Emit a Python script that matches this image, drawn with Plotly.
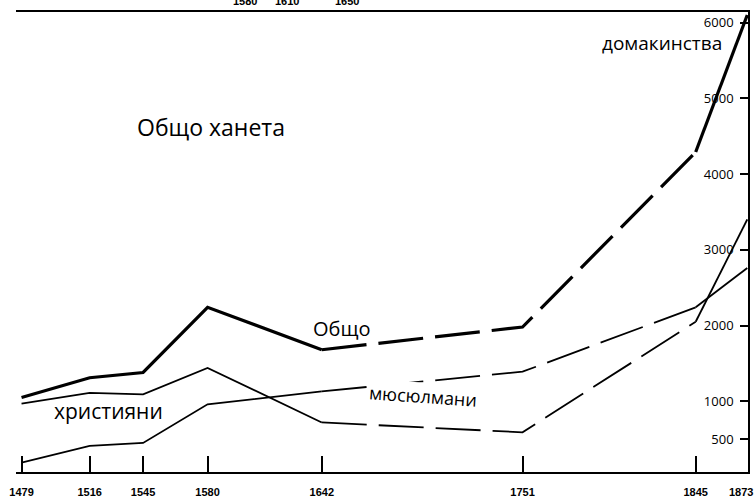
import plotly.graph_objects as go

# ---- data (households) ----
years = [1479, 1516, 1545, 1580, 1642, 1751, 1845, 1873]
total = [1050, 1310, 1380, 2240, 1680, 1980, 4290, 6100]
christians = [970, 1110, 1090, 1440, 720, 590, 2050, 3400]
muslims = [190, 410, 450, 960, 1130, 1390, 2240, 2760]
y_ticks = [500, 1000, 2000, 3000, 4000, 5000, 6000]
x_tick_labels = [str(y) for y in years]
top_cut_labels = ["1580", "1610", "1650"]

# index ranges: recorded (solid) / estimated (dashed) / recorded (solid)
segments = [(0, 5, "solid"), (4, 7, "45px,12px"), (6, 8, "solid")]
series = [("Общо", total, 3.2), ("християни", christians, 1.8), ("мюсюлмани", muslims, 1.8)]

fig = go.Figure()
for name, vals, w in series:
    for a, b, dash in segments:
        fig.add_trace(go.Scatter(
            x=years[a:b], y=vals[a:b], mode="lines", name=name,
            line=dict(color="black", width=w, dash=dash),
            showlegend=False, hoverinfo="skip"))

TXT = "Open Sans"
TICKFONT = dict(family="Liberation Sans", size=11, color="black", weight="bold")

fig.update_layout(
    width=755, height=502,
    margin=dict(l=16, r=7, t=12, b=30),
    paper_bgcolor="white", plot_bgcolor="white",
    xaxis=dict(
        range=[1476, 1873.4], tickmode="array", tickvals=years,
        ticktext=x_tick_labels[:-1] + [""],
        ticks="inside", ticklen=16, tickwidth=2, tickcolor="black",
        showline=True, linewidth=2, linecolor="black", mirror=True,
        showgrid=False, zeroline=False, automargin=False,
        tickfont=TICKFONT,
        ticklabelstandoff=9, ticklabeloverflow="allow",
    ),
    yaxis=dict(
        side="right", range=[66, 6139], tickmode="array", tickvals=y_ticks,
        ticks="inside", ticklen=8, tickwidth=2, tickcolor="black",
        ticklabelposition="inside", ticklabelstandoff=6,
        showline=True, linewidth=2, linecolor="black",
        showgrid=False, zeroline=False, automargin=False,
        tickfont=dict(family=TXT, size=13, color="black"),
    ),
)

# last year label sits at the right edge of the page (cut off, as in the source)
fig.add_annotation(text=x_tick_labels[-1], x=years[-1], xref="x", y=-0.043, yref="paper",
                   xanchor="center", yanchor="middle", xshift=-6, showarrow=False,
                   font=TICKFONT)

ann = [
    dict(text="Общо ханета", x=0.266, y=0.75, size=23, angle=0, bg=None),
    dict(text="Общо", x=0.445, y=0.313, size=20, angle=0, bg=None),
    dict(text="християни", x=0.127, y=0.133, size=21, angle=0, bg=None),
    dict(text="мюсюлмани", x=0.556, y=0.165, size=18, angle=4, bg="white"),
    dict(text="домакинства", x=0.883, y=0.932, size=19, angle=0, bg=None),
]
for a in ann:
    fig.add_annotation(text=a["text"], x=a["x"], y=a["y"], xref="paper", yref="paper",
                       xanchor="center", yanchor="middle",
                       showarrow=False, textangle=a["angle"],
                       bgcolor=a["bg"] if a["bg"] else "rgba(0,0,0,0)",
                       font=dict(family=TXT, size=a["size"], color="black"))

for lab, px in zip(top_cut_labels, [0.313, 0.370, 0.452]):
    fig.add_annotation(text=lab, x=px, y=1.024, xref="paper", yref="paper",
                       xanchor="center", yanchor="middle", showarrow=False,
                       font=TICKFONT)

fig.write_html("out.html", config={"displayModeBar": False},
               post_script="document.body.style.margin='0';")
